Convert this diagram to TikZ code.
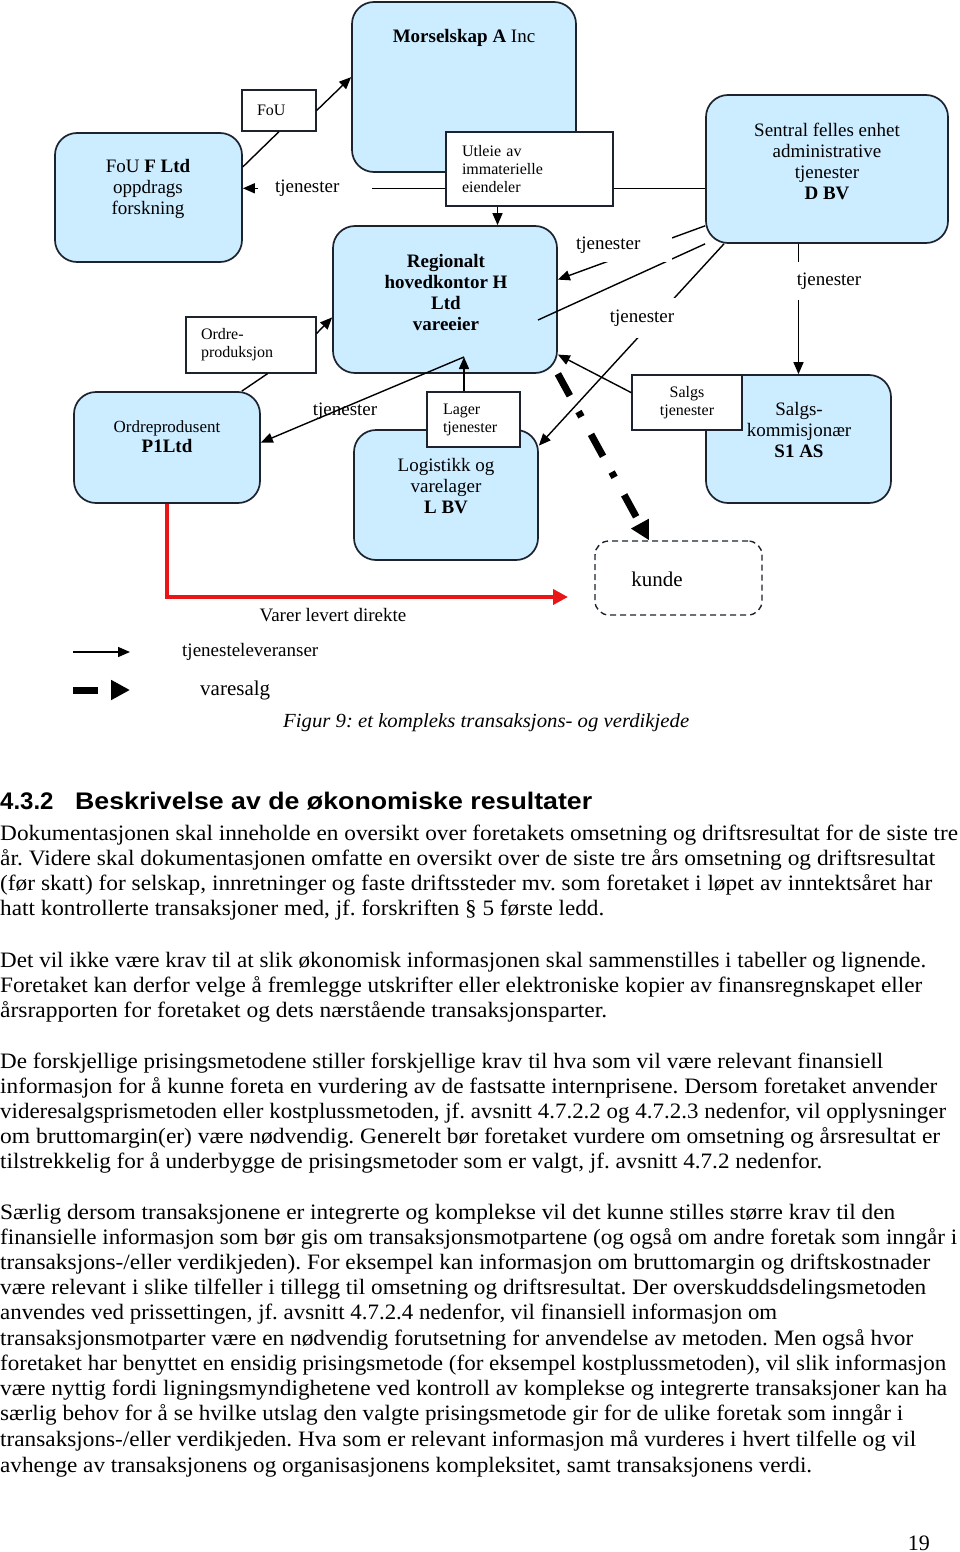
\documentclass[tikz,border=0pt]{standalone}
\usepackage{fontspec}
\setmainfont{Liberation Serif}
\newfontfamily\headfont{Liberation Sans}
\usetikzlibrary{arrows.meta,calc}
\frenchspacing

\definecolor{boxblue}{RGB}{204,236,255}
\definecolor{boxedge}{RGB}{28,34,46}
\definecolor{direktered}{RGB}{232,22,22}

\newcommand{\firmfont}{\fontsize{19pt}{21pt}\selectfont}
\newcommand{\tagfont}{\fontsize{16pt}{18pt}\selectfont}
\newcommand{\kundefont}{\fontsize{21pt}{24pt}\selectfont}
\newcommand{\bodyfont}{\fontsize{22pt}{25pt}\selectfont}
\newcommand{\capfont}{\fontsize{20pt}{24pt}\selectfont\itshape}
\newcommand{\secfont}{\headfont\bfseries\fontsize{24pt}{28pt}\selectfont}
\newcommand{\fitw}[2]{\resizebox{#1pt}{\height}{#2}}

\tikzset{
  firm/.style={draw=boxedge, line width=1.7pt, fill=boxblue, rounded corners=22pt},
  kundebox/.style={draw=boxedge, line width=1.4pt, dash pattern=on 6pt off 4pt, rounded corners=14pt},
  tag/.style={draw=boxedge, line width=1.3pt, fill=white, font=\tagfont, align=left, inner ysep=0pt},
  firmtxt/.style={font=\firmfont, align=center, inner sep=0pt},
  tjlbl/.style={fill=white, font=\firmfont, inner sep=0pt},
  link/.style={line width=1.4pt},
  arr/.style={line width=1.4pt, -{Triangle[length=12pt,width=10pt]}},
  sale/.style={line width=7pt, dash pattern=on 25pt off 18pt on 6pt off 20pt, -{Triangle[length=19pt,width=19pt]}},
  direkte/.style={draw=direktered, line width=4.5pt, -{Triangle[length=15pt,width=15pt]}},
  body/.style={anchor=base west, inner sep=0pt, font=\bodyfont},
}

\begin{document}
\begin{tikzpicture}[x=1pt, y=-1pt]
\useasboundingbox (0,0) rectangle (960,1552);

% selskapene
\node[firm, minimum width=224pt, minimum height=170pt] (mor) at (464,87) {};
\node[firm, minimum width=187pt, minimum height=129pt] (fouf) at (148.5,197.5) {};
\node[firm, minimum width=242pt, minimum height=148pt] (dbv) at (827,169) {};
\node[firm, minimum width=224pt, minimum height=147pt] (hq) at (445,299.5) {};
\node[firm, minimum width=186pt, minimum height=111pt] (p1) at (167,447.5) {};
\node[firm, minimum width=184pt, minimum height=130pt] (lbv) at (446,495) {};
\node[firm, minimum width=185pt, minimum height=128pt] (s1) at (798.5,439) {};
\node[kundebox, minimum width=167pt, minimum height=74pt] (kunde) at (678.5,578) {};

\node[firmtxt] (morT) at (464,38) {\textbf{Morselskap A} Inc};
\node[firmtxt] (foufT) at (148,189) {FoU \textbf{F Ltd}\\oppdrags\\forskning};
\node[firmtxt] (dbvT) at (827,161.5) {Sentral felles enhet\\administrative\\tjenester\\\textbf{D BV}};
\node[firmtxt, font=\firmfont\bfseries] (hqT) at (446,292.5) {Regionalt\\hovedkontor H\\Ltd\\vareeier};
\node[firmtxt, font=\fontsize{17pt}{20pt}\selectfont] (p1T) at (167,436.5) {Ordreprodusent\\\textbf{\fontsize{19pt}{20pt}\selectfont P1Ltd}};
\node[firmtxt] (lbvT) at (446,486) {Logistikk og\\varelager\\\textbf{L BV}};
\node[firmtxt] (s1T) at (799,430) {Salgs-\\kommisjonær\\\textbf{S1 AS}};
\node[font=\kundefont, inner sep=0pt] (kundeT) at (657,579) {kunde};

% transaksjonsbokser
\node[tag, text width=44pt, inner xsep=15pt, minimum height=41pt] (fouTag) at (279,110.5) {FoU};
\node[tag, text width=135pt, inner xsep=16pt, minimum height=74pt] (utleie) at (529.5,169) {Utleie av\\immaterielle\\eiendeler};
\node[tag, text width=100pt, inner xsep=15pt, minimum height=56pt] (ordre) at (251,345) {Ordre-\\produksjon};
\node[tag, text width=61pt, inner xsep=16pt, minimum height=55pt] (lager) at (473.5,419.5) {Lager\\tjenester};
\node[tag, text width=90pt, inner xsep=10pt, minimum height=55pt, align=center] (salgs) at (687,402.5) {Salgs\\tjenester};

\coordinate (hqlow) at (464,357);
\coordinate (hqin) at (538,320);
\coordinate (utlfoot) at ($(utleie.south west)!0.31!(utleie.south east)$);
\coordinate (redEnd) at (568,597);

% tjenester
\draw[link] (fouf.18) -- (fouTag.south);
\draw[arr] (fouTag.east) -- (mor.175);
\draw[link] (dbv.189) -- (utleie.east |- dbv.189);
\draw[arr] (utleie.west |- dbv.189) -- (fouf.east |- dbv.189);
\draw[arr] (utlfoot) -- (utlfoot |- hq.north);
\draw[link] (dbv.south west) -- (hqin);
\draw[arr] (dbv.205) -- (hq.10);
\draw[arr] (dbv.216) -- (lbv.28);
\draw[arr] (s1.north |- dbv.south) -- (s1.north);
\draw[arr] (salgs.170) -- (hq.334);
\draw[arr] (hqlow) -- (p1.3);
\draw[arr] (hqlow |- lager.north) -- (hqlow);
\draw[link] (p1.37) -- (ordre.300);
\draw[arr] (ordre.10) -- (hq.189);

% varer
\draw[sale] (hq.south east) -- (kunde.128);
\draw[direkte] (p1.south) |- (redEnd);

\node[tjlbl, text width=80pt, inner xsep=17pt, align=left, minimum height=24pt] (tj1) at (315,188) {tjenester};
\node[tjlbl, text width=90pt, inner xsep=6pt, align=left, minimum height=33pt] (tj2) at (621,245) {tjenester};
\node[tjlbl, inner xsep=6pt, minimum height=40pt] (tj3) at (642,318) {tjenester};
\node[tjlbl, inner xsep=4pt, minimum height=38pt] (tj4) at (829,281) {tjenester};
\node[font=\firmfont, inner sep=0pt] (tj5) at (345,411) {tjenester};
\node[font=\firmfont, inner sep=0pt] (direkteT) at (333,615) {Varer levert direkte};

% forklaring
\coordinate (legA) at (73,652);
\coordinate (legB) at (130,652);
\coordinate (legC) at (73,690);
\coordinate (legD) at (130,690);
\draw[arr] (legA) -- (legB);
\draw[sale] (legC) -- (legD);
\node[font=\firmfont, anchor=west, inner sep=0pt] (legT1) at (182,652) {tjenesteleveranser};
\node[font=\kundefont, anchor=west, inner sep=0pt] (legT2) at (200,690) {varesalg};
\node[anchor=base west, inner sep=0pt, font=\capfont] (caption) at (283,727) {\fitw{406}{Figur 9: et kompleks transaksjons- og verdikjede}};

% tekst
\node[anchor=base west, inner sep=0pt, font=\secfont] (secno) at (0,809) {4.3.2};
\node[anchor=base west, inner sep=0pt, font=\secfont] (sectitle) at (75,809) {\fitw{517}{Beskrivelse av de økonomiske resultater}};

\node[body] (a1) at (0,840) {\fitw{958}{Dokumentasjonen skal inneholde en oversikt over foretakets omsetning og driftsresultat for de siste tre}};
\node[body] (a2) at (0,865) {\fitw{935}{år. Videre skal dokumentasjonen omfatte en oversikt over de siste tre års omsetning og driftsresultat}};
\node[body] (a3) at (0,890) {\fitw{932}{(før skatt) for selskap, innretninger og faste driftssteder mv. som foretaket i løpet av inntektsåret har}};
\node[body] (a4) at (0,915) {\fitw{604}{hatt kontrollerte transaksjoner med, jf. forskriften § 5 første ledd.}};

\node[body] (b1) at (0,967) {\fitw{926}{Det vil ikke være krav til at slik økonomisk informasjonen skal sammenstilles i tabeller og lignende.}};
\node[body] (b2) at (0,992) {\fitw{922}{Foretaket kan derfor velge å fremlegge utskrifter eller elektroniske kopier av finansregnskapet eller}};
\node[body] (b3) at (0,1017) {\fitw{607}{årsrapporten for foretaket og dets nærstående transaksjonsparter.}};

\node[body] (c1) at (0,1068) {\fitw{883}{De forskjellige prisingsmetodene stiller forskjellige krav til hva som vil være relevant finansiell}};
\node[body] (c2) at (0,1093) {\fitw{937}{informasjon for å kunne foreta en vurdering av de fastsatte internprisene. Dersom foretaket anvender}};
\node[body] (c3) at (0,1118) {\fitw{946}{videresalgsprismetoden eller kostplussmetoden, jf. avsnitt 4.7.2.2 og 4.7.2.3 nedenfor, vil opplysninger}};
\node[body] (c4) at (0,1143) {\fitw{940}{om bruttomargin(er) være nødvendig. Generelt bør foretaket vurdere om omsetning og årsresultat er}};
\node[body] (c5) at (0,1168) {\fitw{822}{tilstrekkelig for å underbygge de prisingsmetoder som er valgt, jf. avsnitt 4.7.2 nedenfor.}};

\node[body] (d1) at (0,1219) {\fitw{895}{Særlig dersom transaksjonene er integrerte og komplekse vil det kunne stilles større krav til den}};
\node[body] (d2) at (0,1244) {\fitw{957}{finansielle informasjon som bør gis om transaksjonsmotpartene (og også om andre foretak som inngår i}};
\node[body] (d3) at (0,1269) {\fitw{930}{transaksjons-/eller verdikjeden). For eksempel kan informasjon om bruttomargin og driftskostnader}};
\node[body] (d4) at (0,1294) {\fitw{926}{være relevant i slike tilfeller i tillegg til omsetning og driftsresultat. Der overskuddsdelingsmetoden}};
\node[body] (d5) at (0,1319) {\fitw{777}{anvendes ved prissettingen, jf. avsnitt 4.7.2.4 nedenfor, vil finansiell informasjon om}};
\node[body] (d6) at (0,1345) {\fitw{913}{transaksjonsmotparter være en nødvendig forutsetning for anvendelse av metoden. Men også hvor}};
\node[body] (d7) at (0,1370) {\fitw{946}{foretaket har benyttet en ensidig prisingsmetode (for eksempel kostplussmetoden), vil slik informasjon}};
\node[body] (d8) at (0,1395) {\fitw{947}{være nyttig fordi ligningsmyndighetene ved kontroll av komplekse og integrerte transaksjoner kan ha}};
\node[body] (d9) at (0,1420) {\fitw{903}{særlig behov for å se hvilke utslag den valgte prisingsmetode gir for de ulike foretak som inngår i}};
\node[body] (d10) at (0,1446) {\fitw{916}{transaksjons-/eller verdikjeden. Hva som er relevant informasjon må vurderes i hvert tilfelle og vil}};
\node[body] (d11) at (0,1472) {\fitw{812}{avhenge av transaksjonens og organisasjonens kompleksitet, samt transaksjonens verdi.}};

\node[anchor=base east, inner sep=0pt, font=\bodyfont] (pageno) at (930,1550) {19};
\end{tikzpicture}
\end{document}
